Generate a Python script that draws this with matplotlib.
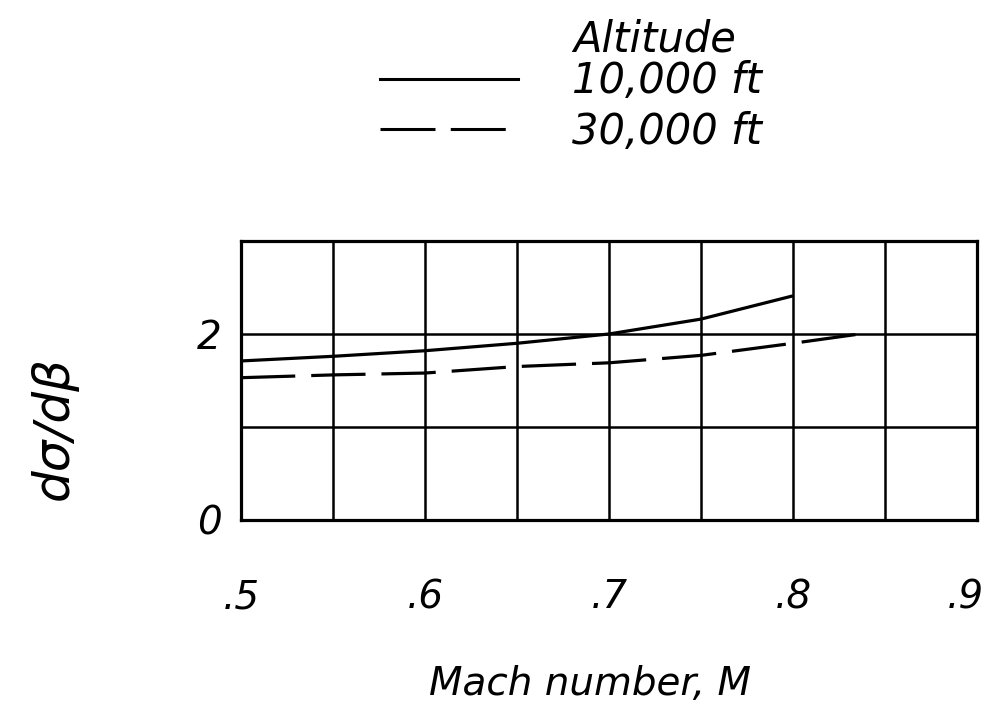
import matplotlib.pyplot as plt
from matplotlib.lines import Line2D
from matplotlib.transforms import ScaledTranslation

# Values
mach_10k = [0.50, 0.55, 0.60, 0.65, 0.70, 0.75, 0.80]
dsdb_10k = [1.71, 1.76, 1.82, 1.90, 2.00, 2.16, 2.41]
mach_30k = [0.50, 0.55, 0.60, 0.65, 0.70, 0.75, 0.80, 0.84]
dsdb_30k = [1.53, 1.56, 1.58, 1.65, 1.69, 1.77, 1.90, 2.01]

x_ticks = [0.50, 0.55, 0.60, 0.65, 0.70, 0.75, 0.80, 0.85, 0.90]
x_labels = [".5", "", ".6", "", ".7", "", ".8", "", ".9"]
y_ticks = [0, 1, 2, 3]
y_labels = ["0", "", "2", ""]

font = dict(family="DejaVu Sans", style="italic")

fig = plt.figure(figsize=(9.9, 7.09), dpi=100)
ax = fig.add_axes([0.2434, 0.2666, 0.7434, 0.3935])

ax.plot(mach_10k, dsdb_10k, color="black", lw=2.3, solid_capstyle="butt")
ax.plot(mach_30k, dsdb_30k, color="black", lw=2.3, dashes=(17, 5))

ax.set_xlim(0.5, 0.9)
ax.set_ylim(0, 3)
ax.set_xticks(x_ticks, labels=x_labels)
ax.set_yticks(y_ticks, labels=y_labels)
ax.grid(True, color="black", lw=1.8)
ax.tick_params(axis="both", length=0)
ax.tick_params(axis="x", pad=42)
ax.tick_params(axis="y", pad=14)
for lab in ax.get_xticklabels() + ax.get_yticklabels():
    lab.set_fontsize(28)
    lab.set_fontstyle("italic")
# last x label sits a little left in the original
last = ax.get_xticklabels()[-1]
last.set_transform(last.get_transform() + ScaledTranslation(-12 / 100, 0, fig.dpi_scale_trans))
for s in ax.spines.values():
    s.set_linewidth(2.3)

ax.set_xlabel("Mach number, M", fontsize=28, **font)
ax.xaxis.set_label_coords(0.474, -0.52)
ax.set_ylabel("dσ/dβ", fontsize=36, **font)
ax.yaxis.set_label_coords(-0.222, 0.33)

# Legend
fig.text(0.579, 0.944, "Altitude", fontsize=30, ha="left", va="center", **font)
handles = [Line2D([], [], color="black", lw=2.2),
           Line2D([], [], color="black", lw=2.2, dashes=(18, 5))]
leg = fig.legend(handles, ["10,000 ft", "30,000 ft"], loc="upper left",
                 bbox_to_anchor=(0.384, 0.915), frameon=False,
                 prop=dict(size=30, style="italic", family="DejaVu Sans"),
                 handlelength=3.3, handletextpad=1.3, labelspacing=0.2,
                 borderpad=0, borderaxespad=0)

fig.savefig("out.png", dpi=100)
